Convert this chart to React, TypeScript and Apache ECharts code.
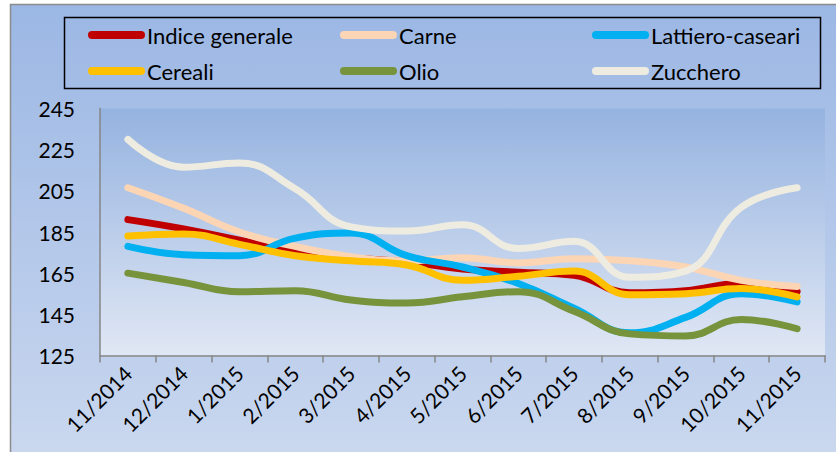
import React, { useEffect, useRef } from "react";
import * as echarts from "echarts";

const categories = ["11/2014", "12/2014", "1/2015", "2/2015", "3/2015", "4/2015", "5/2015", "6/2015", "7/2015", "8/2015", "9/2015", "10/2015", "11/2015"];
const indiceGenerale = [191, 186.5, 181, 175.5, 172.5, 170.5, 167, 165.5, 164, 155.5, 156.5, 160, 156];
const carne = [206.5, 196.5, 185, 178, 173, 171, 172.5, 170, 172, 171, 168, 161.5, 158.5];
const lattieroCaseari = [178, 174, 173.5, 182, 184.5, 173.5, 168, 160, 148, 136, 143.5, 155, 151];
const cereali = [183, 184, 179, 173.5, 171, 169, 161.5, 163.5, 166, 154.5, 155, 157.5, 153.5];
const olio = [165, 160.5, 156, 156.5, 152, 150.5, 153.5, 156, 146.5, 135.5, 134.5, 142.5, 138];
const zucchero = [230, 216.5, 218.5, 206, 187.5, 185.5, 188.5, 177, 180.5, 163, 166, 197, 206.5];

const seriesNames = ["Indice generale", "Carne", "Lattiero-caseari", "Cereali", "Olio", "Zucchero"];
const seriesData = [indiceGenerale, carne, lattieroCaseari, cereali, olio, zucchero];
const seriesColors = ["#C00000", "#FCD5B5", "#00B0F0", "#FFC000", "#77933C", "#EEECE1"];

const FONT = "Lato, 'Open Sans', sans-serif";
const capsule = "path://M4,0 L53,0 A4,4 0 0 1 53,8 L4,8 A4,4 0 0 1 4,0 Z";

export default function App() {
  const ref = useRef<HTMLDivElement>(null);
  useEffect(() => {
    if (!ref.current) return;
    const chart = echarts.init(ref.current, undefined, { renderer: "svg" });
    const legendCommon = {
      orient: "vertical",
      top: 24,
      padding: 0,
      itemWidth: 57,
      itemHeight: 8,
      itemGap: 14,
      icon: capsule,
      selectedMode: false,
      textStyle: { fontFamily: FONT, fontSize: 22, color: "#000", lineHeight: 22, padding: [0, 0, 0, -3] },
    };
    chart.setOption({
      animation: false,
      backgroundColor: "#ffffff",
      graphic: [
        {
          type: "rect",
          z: -10,
          shape: { x: 10.5, y: 4.5, width: 900, height: 500 },
          style: {
            fill: new echarts.graphic.LinearGradient(0, 0, 0, 1, [
              { offset: 0, color: "#9bb7e4" },
              { offset: 1, color: "#cfdbf0" },
            ]),
            stroke: "#8c8c8c",
            lineWidth: 1.5,
          },
        },
        {
          type: "rect",
          z: 10,
          shape: { x: 64.5, y: 17.5, width: 756, height: 71 },
          style: { fill: "none", stroke: "#000", lineWidth: 1.5 },
        },
      ],
      legend: [
        { ...legendCommon, left: 88, data: ["Indice generale", "Cereali"] },
        { ...legendCommon, left: 340, data: ["Carne", "Olio"] },
        { ...legendCommon, left: 592, data: ["Lattiero-caseari", "Zucchero"] },
      ],
      grid: {
        left: 100,
        right: 11,
        top: 108.5,
        bottom: 96.5,
        show: true,
        borderWidth: 0,
        backgroundColor: new echarts.graphic.LinearGradient(0, 0, 0, 1, [
          { offset: 0, color: "#95b3e0" },
          { offset: 1, color: "#e0e7f4" },
        ]),
      },
      xAxis: {
        type: "category",
        data: categories,
        boundaryGap: true,
        axisLine: { lineStyle: { color: "#868686", width: 1.5 } },
        axisTick: { show: true, length: 7, lineStyle: { color: "#868686", width: 1.5 } },
        axisLabel: { rotate: 45, margin: 14, fontFamily: FONT, fontSize: 21, color: "#000", interval: 0 },
        splitLine: { show: false },
      },
      yAxis: {
        type: "value",
        min: 125,
        max: 245,
        interval: 20,
        axisLine: { show: true, lineStyle: { color: "#868686", width: 1.5 } },
        axisTick: { show: false },
        axisLabel: { margin: 25, fontFamily: FONT, fontSize: 21, color: "#000" },
        splitLine: { show: false },
      },
      series: seriesNames.map((name, i) => ({
        name,
        type: "line",
        data: seriesData[i],
        smooth: 0.45,
        showSymbol: false,
        symbol: "none",
        color: seriesColors[i],
        lineStyle: { color: seriesColors[i], width: 7, cap: "round", join: "round" },
      })),
    });
    return () => chart.dispose();
  }, []);
  return (
    <div style={{ position: "fixed", left: 0, top: 0, width: 836, height: 452 }}>
      <div ref={ref} style={{ width: 836, height: 452 }} />
    </div>
  );
}
